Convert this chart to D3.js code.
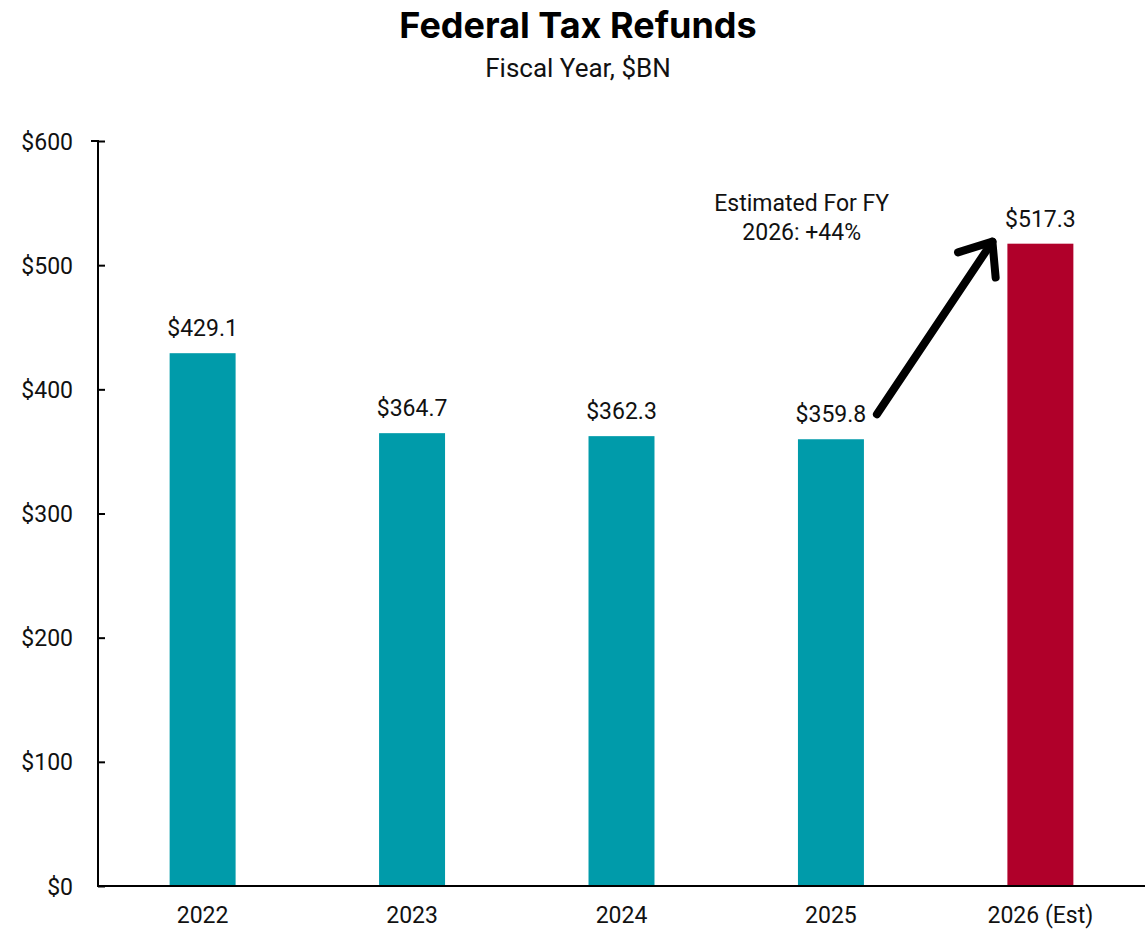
<!DOCTYPE html>
<html><head><meta charset="utf-8">
<script src="https://cdn.jsdelivr.net/npm/d3@7/dist/d3.min.js"></script>
<style>body{margin:0;background:#fff;} svg{display:block;font-family:Roboto,"Noto Sans",sans-serif;}</style>
</head><body><svg id="c" width="1145" height="933"></svg>
<script>
const categories = ["2022","2023","2024","2025","2026 (Est)"];
const values = [429.1, 364.7, 362.3, 359.8, 517.3];
const labels = ["$429.1","$364.7","$362.3","$359.8","$517.3"];
const yTicks = [0,100,200,300,400,500,600];
const title = "Federal Tax Refunds";
const subtitle = "Fiscal Year, $BN";
const annotation = ["Estimated For FY","2026: +44%"];

const svg = d3.select("#c");
const x = d3.scaleBand().domain(categories).range([98,1145]).paddingInner(0.685).paddingOuter(0.342);
const y = d3.scaleLinear().domain([0,600]).range([886,141]);

svg.append("text").attr("x",578).attr("y",38).attr("text-anchor","middle")
  .attr("font-size",36).attr("font-weight",700).attr("font-family","Inter, Roboto, sans-serif").attr("fill","#000").text(title);
svg.append("text").attr("x",578).attr("y",77).attr("text-anchor","middle")
  .attr("font-size",26).attr("fill","#111").text(subtitle);

svg.selectAll("rect.bar").data(values).join("rect").attr("class","bar")
  .attr("x",(d,i)=>x(categories[i])).attr("width",x.bandwidth())
  .attr("y",d=>y(d)).attr("height",d=>y(0)-y(d))
  .attr("fill",(d,i)=>i===categories.length-1?"#B0002A":"#009BAA");

svg.selectAll("text.val").data(values).join("text").attr("class","val")
  .attr("x",(d,i)=>x(categories[i])+x.bandwidth()/2).attr("y",d=>y(d)-17)
  .attr("text-anchor","middle").attr("font-size",23).attr("fill","#111").text((d,i)=>labels[i]);

// y axis
const yAxis = d3.axisLeft(y).tickValues(yTicks).tickFormat(d=>"$"+d).tickSize(-7).tickPadding(25);
const gy = svg.append("g").attr("transform","translate(98,0)").call(yAxis);
gy.select(".domain").attr("stroke","#000").attr("stroke-width",2).attr("d","M-7,141H0V886");
gy.selectAll(".tick line").attr("stroke","#000").attr("stroke-width",2).attr("x1",0).attr("x2",7);
gy.selectAll(".tick text").attr("font-size",23).attr("fill","#111").attr("font-family","Roboto, sans-serif").attr("dy","0.35em");

// x axis
const xAxis = d3.axisBottom(x).tickSize(0).tickPadding(21);
const gx = svg.append("g").attr("transform","translate(0,886)").call(xAxis);
gx.select(".domain").attr("stroke","#000").attr("stroke-width",2).attr("d","M97,0H1145");
gx.selectAll(".tick text").attr("font-size",23).attr("fill","#111").attr("font-family","Roboto, sans-serif");

// annotation text
const last = categories[categories.length-1], prev = categories[categories.length-2];
const ann = svg.append("text").attr("text-anchor","middle").attr("font-size",23).attr("fill","#111");
ann.selectAll("tspan").data(annotation).join("tspan")
  .attr("x",(x(prev)+x(last)+x.bandwidth())/2 - 134).attr("y",(d,i)=>y(values[4]) - 33 + i*29).text(d=>d);

// arrow
const x0 = x(prev)+x.bandwidth()+13, y0 = y(values[3])-25;
const x1 = x(last)-15, y1 = y(values[4])-2;
const ang = Math.atan2(y1-y0, x1-x0);
const L = 36, spread = 0.68;
const w1 = [x1 - L*Math.cos(ang-spread), y1 - L*Math.sin(ang-spread)];
const w2 = [x1 - L*Math.cos(ang+spread), y1 - L*Math.sin(ang+spread)];
svg.append("path").attr("d",`M${x0},${y0}L${x1},${y1}`).attr("stroke","#000").attr("stroke-width",8).attr("stroke-linecap","round").attr("fill","none");
svg.append("path").attr("d",`M${w1[0]},${w1[1]}L${x1},${y1}L${w2[0]},${w2[1]}`).attr("stroke","#000").attr("stroke-width",8).attr("stroke-linecap","round").attr("stroke-linejoin","round").attr("fill","none");
</script></body></html>
